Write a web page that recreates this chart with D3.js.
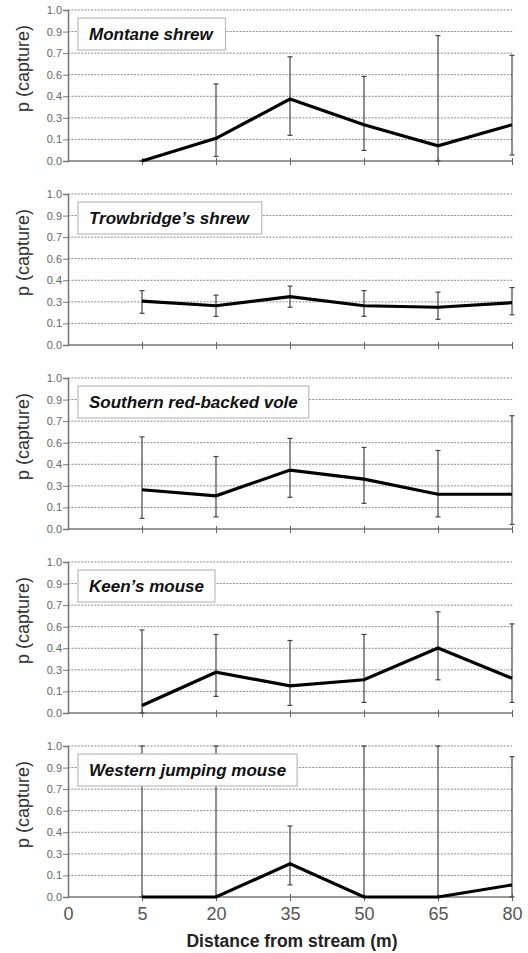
<!DOCTYPE html>
<html>
<head>
<meta charset="utf-8">
<script src="https://cdn.jsdelivr.net/npm/d3@7"></script>
<style>
  body { margin: 0; background: white; }
  text { font-family: Arial, "Liberation Sans", sans-serif; }
</style>
</head>
<body>
<div id="chart"></div>
<script>
// categories
let distances = ["0", "5", "20", "35", "50", "65", "80"];
let species = ["Montane shrew", "Trowbridge\u2019s shrew", "Southern red-backed vole", "Keen\u2019s mouse", "Western jumping mouse"];
let yTickLabels = ["0.0", "0.1", "0.3", "0.4", "0.6", "0.7", "0.9", "1.0"];

// p(capture) estimates, one row per species (distances 5..80)
let pEstimate = [
  [0.00, 0.15, 0.41, 0.24, 0.10, 0.24],
  [0.29, 0.26, 0.32, 0.26, 0.25, 0.28],
  [0.26, 0.22, 0.39, 0.33, 0.23, 0.23],
  [0.05, 0.27, 0.18, 0.22, 0.43, 0.23],
  [0.00, 0.00, 0.22, 0.00, 0.00, 0.08]
];
let pLower = [
  [0.00, 0.03, 0.17, 0.07, 0.00, 0.04],
  [0.21, 0.19, 0.25, 0.19, 0.17, 0.20],
  [0.07, 0.08, 0.21, 0.17, 0.08, 0.03],
  [0.00, 0.11, 0.05, 0.07, 0.22, 0.07],
  [0.00, 0.00, 0.08, 0.00, 0.00, 0.00]
];
let pUpper = [
  [0.00, 0.51, 0.69, 0.56, 0.83, 0.70],
  [0.36, 0.33, 0.39, 0.36, 0.35, 0.38],
  [0.61, 0.48, 0.60, 0.54, 0.52, 0.75],
  [0.55, 0.52, 0.48, 0.52, 0.67, 0.59],
  [1.00, 1.00, 0.47, 1.00, 1.00, 0.93]
];

let W = 528, H = 953;
let plotLeft = 68, plotRight = 512;
let panelTop = 10, panelStep = 184, panelH = 151;

let svg = d3.select("#chart").append("svg")
  .attr("width", W)
  .attr("height", H);

let x = d3.scalePoint().domain(distances).range([plotLeft, plotRight]);
// ticks sit at sevenths of the 0..1 range, labelled with one decimal
let yTickVals = yTickLabels.map(function(d, i) { return i / (yTickLabels.length - 1); });

species.forEach(function(name, s) {
  let top = panelTop + s * panelStep;
  let y = d3.scaleLinear().domain([0, 1]).range([top + panelH, top]);
  let g = svg.append("g");

  // dotted grid
  g.selectAll("line.grid")
    .data(yTickVals.slice(1))
    .enter().append("line")
      .attr("class", "grid")
      .attr("x1", plotLeft).attr("x2", plotRight + 1)
      .attr("y1", function(d) { return y(d); })
      .attr("y2", function(d) { return y(d); })
      .attr("stroke", "#8a8a8a")
      .attr("stroke-width", 1)
      .attr("stroke-dasharray", "2,1.3");

  // y axis
  let yAxis = d3.axisLeft(y)
    .tickValues(yTickVals)
    .tickFormat(function(d, i) { return yTickLabels[i]; })
    .tickSize(5)
    .tickPadding(1);
  let ya = g.append("g").attr("transform", "translate(" + plotLeft + ",0)").call(yAxis);
  ya.select(".domain").attr("stroke", "#777").attr("stroke-width", 1.5);
  ya.selectAll(".tick line").attr("stroke", "#777");
  ya.selectAll(".tick text")
    .attr("fill", "#666")
    .style("font-size", "11px")
    .style("font-family", "Arial, 'Liberation Sans', sans-serif");

  // x axis
  let xAxis = d3.axisBottom(x).tickSize(4).tickFormat("");
  let xa = g.append("g").attr("transform", "translate(0," + (top + panelH) + ")").call(xAxis);
  xa.select(".domain").attr("stroke", "#777").attr("stroke-width", 1.5).attr("d", "M" + plotLeft + ",0H" + (plotRight + 1));
  xa.selectAll(".tick line").attr("stroke", "#666").attr("y1", -3);
  xa.selectAll(".tick").filter(function(d) { return d === "0"; }).remove();
  if (s === species.length - 1) {
    xa.selectAll(".tick").remove();
    let lastAxis = d3.axisBottom(x).tickSize(4).tickPadding(6);
    let la = g.append("g").attr("transform", "translate(0," + (top + panelH) + ")").call(lastAxis);
    la.select(".domain").remove();
    la.selectAll(".tick line").attr("stroke", "#666").attr("y1", -3);
    la.selectAll(".tick").filter(function(d) { return d === "0"; }).select("line").remove();
    la.selectAll(".tick text")
      .attr("fill", "#555")
      .style("font-size", "18px")
      .style("font-family", "Arial, 'Liberation Sans', sans-serif");
  }

  // y title
  g.append("text")
    .attr("transform", "translate(29," + (top + panelH / 2 - 17) + ") rotate(-90)")
    .attr("text-anchor", "middle")
    .attr("fill", "#333")
    .style("font-size", "18px")
    .text("p (capture)");

  let pts = distances.slice(1).map(function(d, i) {
    return { d: d, p: pEstimate[s][i], lo: pLower[s][i], hi: pUpper[s][i] };
  });

  // error bars
  let eb = g.selectAll("g.err").data(pts).enter().append("g").attr("class", "err");
  eb.append("line")
    .attr("x1", function(d) { return x(d.d); }).attr("x2", function(d) { return x(d.d); })
    .attr("y1", function(d) { return y(d.lo); }).attr("y2", function(d) { return y(d.hi); })
    .attr("stroke", "#444").attr("stroke-width", 1.2);
  eb.selectAll("line.cap")
    .data(function(d) { return [{ d: d.d, v: d.lo }, { d: d.d, v: d.hi }]; })
    .enter().append("line")
      .attr("class", "cap")
      .attr("x1", function(d) { return x(d.d) - 2.5; }).attr("x2", function(d) { return x(d.d) + 2.5; })
      .attr("y1", function(d) { return y(d.v); }).attr("y2", function(d) { return y(d.v); })
      .attr("stroke", "#444").attr("stroke-width", 1.2);

  // estimate line
  let line = d3.line()
    .x(function(d) { return x(d.d); })
    .y(function(d) { return y(d.p); });
  g.append("path")
    .datum(pts)
    .attr("d", line)
    .attr("fill", "none")
    .attr("stroke", "#000")
    .attr("stroke-width", 3.2)
    .attr("stroke-linejoin", "miter");

  // species label box
  let lab = g.append("g");
  let box = lab.append("rect");
  let txt = lab.append("text")
    .attr("x", 89)
    .attr("y", top + 30)
    .attr("fill", "#111")
    .style("font-size", "17px")
    .style("font-weight", "bold")
    .style("font-style", "italic")
    .text(name);
  let bb = txt.node().getBBox();
  box.attr("x", 78).attr("y", top + 8)
    .attr("width", bb.width + 22)
    .attr("height", 32)
    .attr("fill", "white")
    .attr("stroke", "#bbb")
    .attr("stroke-width", 1.2);
});

// x title
svg.append("text")
  .attr("x", 292)
  .attr("y", 947)
  .attr("text-anchor", "middle")
  .attr("fill", "#222")
  .style("font-size", "17.5px")
  .style("font-weight", "bold")
  .text("Distance from stream (m)");
</script>
</body>
</html>
